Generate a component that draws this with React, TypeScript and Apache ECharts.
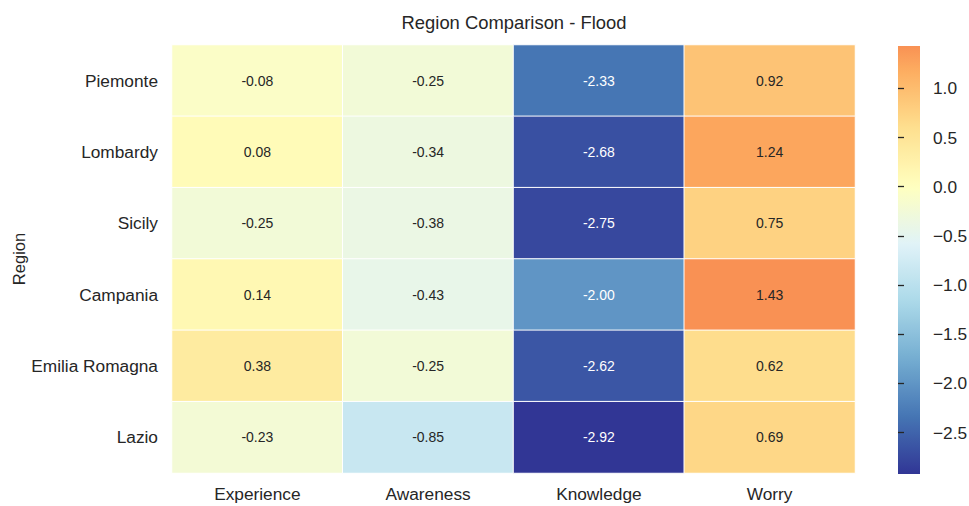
import React, { useEffect, useRef } from "react";
import * as echarts from "echarts";

const regions = ["Piemonte", "Lombardy", "Sicily", "Campania", "Emilia Romagna", "Lazio"];
const measures = ["Experience", "Awareness", "Knowledge", "Worry"];

// one row per region, columns follow `measures`
const piemonte = [-0.08, -0.25, -2.33, 0.92];
const lombardy = [0.08, -0.34, -2.68, 1.24];
const sicily = [-0.25, -0.38, -2.75, 0.75];
const campania = [0.14, -0.43, -2.0, 1.43];
const emiliaRomagna = [0.38, -0.25, -2.62, 0.62];
const lazio = [-0.23, -0.85, -2.92, 0.69];
const rows = [piemonte, lombardy, sicily, campania, emiliaRomagna, lazio];

const colorbarTicks = [-2.5, -2.0, -1.5, -1.0, -0.5, 0.0, 0.5, 1.0];

// RdYlBu reversed (ColorBrewer 11-class)
const RDYLBU_R = [
  "#313695", "#4575b4", "#74add1", "#abd9e9", "#e0f3f8", "#ffffbf",
  "#fee090", "#fdae61", "#f46d43", "#d73027", "#a50026",
];

const hexToRgb = (h: string) => [
  parseInt(h.slice(1, 3), 16),
  parseInt(h.slice(3, 5), 16),
  parseInt(h.slice(5, 7), 16),
];

const sampleCmap = (t: number) => {
  const p = Math.min(Math.max(t, 0), 1) * (RDYLBU_R.length - 1);
  const i = Math.min(Math.floor(p), RDYLBU_R.length - 2);
  const f = p - i;
  const a = hexToRgb(RDYLBU_R[i]);
  const b = hexToRgb(RDYLBU_R[i + 1]);
  return a.map((c, k) => Math.round(c + (b[k] - c) * f));
};

const rgbStr = (c: number[]) => `rgb(${c[0]},${c[1]},${c[2]})`;

const luminance = (c: number[]) => {
  const lin = c.map((v) => {
    const s = v / 255;
    return s <= 0.03928 ? s / 12.92 : Math.pow((s + 0.055) / 1.055, 2.4);
  });
  return 0.2126 * lin[0] + 0.7152 * lin[1] + 0.0722 * lin[2];
};

const allValues = rows.flat();
const vMin = Math.min(...allValues);
const vMax = Math.max(...allValues);
// colormap centred on zero
const span = Math.max(Math.abs(vMin), Math.abs(vMax));
const valueToT = (v: number) => 0.5 + v / (2 * span);
const colorOf = (v: number) => sampleCmap(valueToT(v));

const N_STOPS = 64;
const stopColors: string[] = [];
for (let i = 0; i < N_STOPS; i++) {
  const v = vMin + ((vMax - vMin) * i) / (N_STOPS - 1);
  stopColors.push(rgbStr(colorOf(v)));
}

const TEXT = "#262626";
const FONT = "'Liberation Sans', Arial, sans-serif";
const TICK_SIZE = 17.3;

export default function App() {
  const ref = useRef<HTMLDivElement>(null);

  useEffect(() => {
    if (!ref.current) return;
    const chart = echarts.init(ref.current, undefined, { renderer: "svg" });

    const data: any[] = [];
    rows.forEach((row, yi) => {
      row.forEach((v, xi) => {
        const c = colorOf(v);
        data.push({
          value: [xi, yi, v],
          label: { color: luminance(c) > 0.408 ? TEXT : "#ffffff" },
        });
      });
    });

    const cb = { left: 898, top: 46, width: 22, height: 428 };

    chart.setOption({
      animation: false,
      backgroundColor: "#ffffff",
      textStyle: { fontFamily: FONT },
      title: {
        text: "Region Comparison - Flood",
        left: 509,
        textAlign: "center",
        top: 8,
        textStyle: { fontFamily: FONT, fontSize: 18.4, fontWeight: "normal", color: TEXT },
      },
      grid: [
        { left: 172, top: 45, right: 114, bottom: 33, outerBoundsMode: "none" },
        {
          left: cb.left,
          top: cb.top,
          width: cb.width,
          height: cb.height,
          outerBoundsMode: "none",
        },
      ],
      xAxis: [
        {
          type: "category",
          data: measures,
          gridIndex: 0,
          axisLine: { show: false },
          axisTick: { show: false },
          splitLine: { show: false },
          axisLabel: { fontSize: TICK_SIZE, color: TEXT, margin: 12, fontFamily: FONT },
        },
        { type: "value", gridIndex: 1, show: false, min: 0, max: 1 },
      ],
      yAxis: [
        {
          type: "category",
          data: regions,
          inverse: true,
          gridIndex: 0,
          name: "Region",
          nameLocation: "middle",
          nameRotate: 90,
          nameGap: 145,
          nameMoveOverlap: false,
          nameTextStyle: { fontSize: 16.5, color: TEXT, fontFamily: FONT },
          axisLine: { show: false },
          axisTick: { show: false },
          splitLine: { show: false },
          axisLabel: { fontSize: TICK_SIZE, color: TEXT, margin: 14, fontFamily: FONT },
        },
        {
          type: "value",
          gridIndex: 1,
          position: "right",
          min: vMin,
          max: vMax,
          axisLine: { show: false },
          splitLine: { show: false },
          axisTick: {
            show: true,
            length: 6,
            customValues: colorbarTicks,
            lineStyle: { color: TEXT, width: 1.3 },
          },
          axisLabel: {
            show: true,
            margin: 13,
            fontSize: TICK_SIZE,
            color: TEXT,
            fontFamily: FONT,
            customValues: colorbarTicks,
            formatter: (v: number) => (v < 0 ? "\u2212" : "") + Math.abs(v).toFixed(1),
          },
        },
      ],
      visualMap: {
        show: false,
        type: "continuous",
        min: vMin,
        max: vMax,
        dimension: 2,
        seriesIndex: 0,
        inRange: { color: stopColors },
      },
      graphic: [
        {
          type: "rect",
          shape: { x: cb.left, y: cb.top, width: cb.width, height: cb.height },
          style: {
            fill: new echarts.graphic.LinearGradient(
              0, 1, 0, 0,
              stopColors.map((c, i) => ({ offset: i / (N_STOPS - 1), color: c }))
            ),
          },
          z: 0,
        },
      ],
      series: [
        {
          type: "heatmap",
          xAxisIndex: 0,
          yAxisIndex: 0,
          data,
          itemStyle: { borderColor: "#ffffff", borderWidth: 1 },
          emphasis: { disabled: true },
          label: {
            show: true,
            fontSize: 14,
            fontFamily: FONT,
            formatter: (p: any) => p.value[2].toFixed(2),
          },
        },
        {
          type: "line",
          xAxisIndex: 1,
          yAxisIndex: 1,
          data: [],
          silent: true,
        },
      ],
    });

    return () => chart.dispose();
  }, []);

  return (
    <div
      ref={ref}
      style={{ position: "fixed", left: 0, top: 0, width: 969, height: 506 }}
    />
  );
}
